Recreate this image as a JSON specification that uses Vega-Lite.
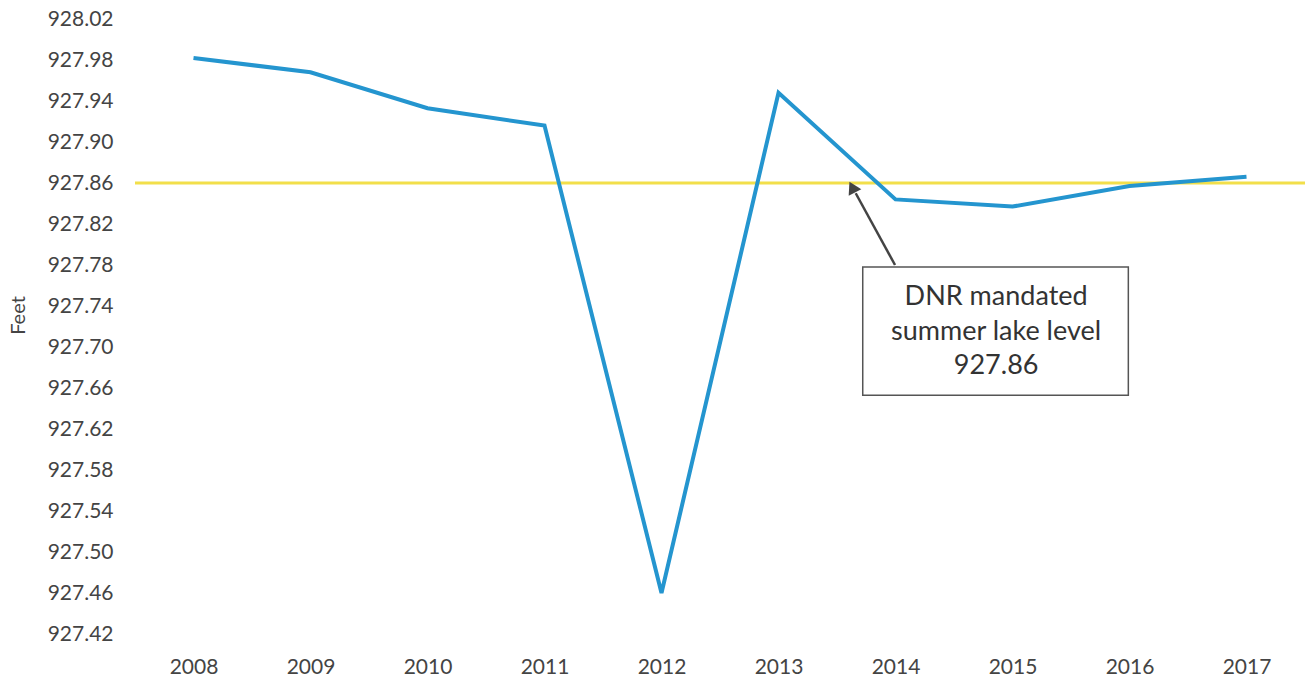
{
  "$schema": "https://vega.github.io/schema/vega-lite/v6.json",
  "autosize": "none",
  "width": 1170,
  "height": 615,
  "padding": {"left": 135, "top": 19, "right": 6, "bottom": 54},
  "background": "white",
  "config": {"view": {"stroke": null}, "font": "Lato"},
  "datasets": {
    "levels": [
      {"year": 2008, "feet": 927.982},
      {"year": 2009, "feet": 927.968},
      {"year": 2010, "feet": 927.933},
      {"year": 2011, "feet": 927.916},
      {"year": 2012, "feet": 927.46},
      {"year": 2013, "feet": 927.948},
      {"year": 2014, "feet": 927.844},
      {"year": 2015, "feet": 927.837},
      {"year": 2016, "feet": 927.857},
      {"year": 2017, "feet": 927.866}
    ],
    "box": [{"x1": 2013.72, "x2": 2015.99, "y1": 927.653, "y2": 927.778}],
    "notes": [
      {"x": 2014.86, "y": 927.749, "label": "DNR mandated"},
      {"x": 2014.86, "y": 927.715, "label": "summer lake level"},
      {"x": 2014.86, "y": 927.681, "label": "927.86"}
    ],
    "arrow": [{"x1": 2013.996, "y1": 927.780, "x2": 2013.66, "y2": 927.850}],
    "head": [{"x": 2013.63, "y": 927.856}]
  },
  "layer": [
    {
      "data": {"values": [{"level": 927.86}]},
      "mark": {"type": "rule", "color": "#f2df4a", "strokeWidth": 3},
      "encoding": {
        "y": {"field": "level", "type": "quantitative"}
      }
    },
    {
      "data": {"name": "levels"},
      "mark": {"type": "line", "color": "#2495cf", "strokeWidth": 4, "strokeJoin": "miter"},
      "encoding": {
        "x": {
          "field": "year", "type": "quantitative",
          "scale": {"domain": [2007.5, 2017.5], "nice": false, "zero": false},
          "axis": {
            "title": null, "values": [2008, 2009, 2010, 2011, 2012, 2013, 2014, 2015, 2016, 2017],
            "format": "d", "domain": false, "ticks": false, "grid": false,
            "labelPadding": 22, "labelFontSize": 21, "labelColor": "#444444", "labelFont": "Lato"
          }
        },
        "y": {
          "field": "feet", "type": "quantitative",
          "scale": {"domain": [927.42, 928.02], "nice": false, "zero": false},
          "axis": {
            "title": "Feet", "values": [927.42, 927.46, 927.5, 927.54, 927.58, 927.62, 927.66, 927.7, 927.74, 927.78, 927.82, 927.86, 927.9, 927.94, 927.98, 928.02],
            "format": ".2f", "domain": false, "ticks": false, "grid": false,
            "labelPadding": 22, "labelFontSize": 21, "labelColor": "#444444", "labelFont": "Lato",
            "titleFontSize": 20, "titleFontWeight": "normal", "titleColor": "#444444", "titleFont": "Lato",
            "titleX": -117, "titleY": 296, "titleAngle": -90, "titleAlign": "center", "titleBaseline": "middle"
          }
        }
      }
    },
    {
      "data": {"name": "box"},
      "mark": {"type": "rect", "fill": "white", "stroke": "#555555", "strokeWidth": 1.5},
      "encoding": {
        "x": {"field": "x1", "type": "quantitative"},
        "x2": {"field": "x2"},
        "y": {"field": "y1", "type": "quantitative"},
        "y2": {"field": "y2"}
      }
    },
    {
      "data": {"name": "notes"},
      "mark": {"type": "text", "fontSize": 27, "color": "#333333", "font": "Lato", "align": "center", "baseline": "middle"},
      "encoding": {
        "x": {"field": "x", "type": "quantitative"},
        "y": {"field": "y", "type": "quantitative"},
        "text": {"field": "label"}
      }
    },
    {
      "data": {"name": "arrow"},
      "mark": {"type": "rule", "color": "#444444", "strokeWidth": 2.5},
      "encoding": {
        "x": {"field": "x1", "type": "quantitative"},
        "y": {"field": "y1", "type": "quantitative"},
        "x2": {"field": "x2"},
        "y2": {"field": "y2"}
      }
    },
    {
      "data": {"name": "head"},
      "mark": {"type": "point", "shape": "triangle-up", "filled": true, "color": "#444444", "opacity": 1, "size": 200, "angle": 333},
      "encoding": {
        "x": {"field": "x", "type": "quantitative"},
        "y": {"field": "y", "type": "quantitative"}
      }
    }
  ]
}
